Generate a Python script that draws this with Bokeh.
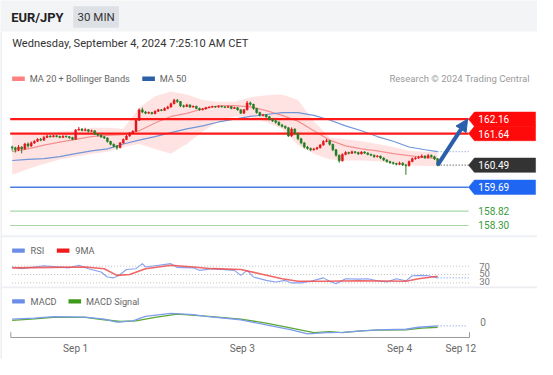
from bokeh.plotting import figure
from bokeh.layouts import column
from bokeh.models import Range1d, Arrow, NormalHead, ColumnDataSource
from bokeh.core.properties import value
from bokeh.embed import file_html
from bokeh.resources import INLINE

# ---------------- data ----------------
symbol = "EUR/JPY"
timeframe = "30 MIN"
timestamp = "Wednesday, September 4, 2024 7:25:10 AM CET"
credit = "Research \u00a9 2024 Trading Central"

open0 = 161.15
close = [161.12, 161.05, 161.15, 161.08, 161.26, 161.19, 161.30, 161.36, 161.43, 161.40,
         161.50, 161.55, 161.52, 161.56, 161.53, 161.50, 161.54, 161.52, 161.49, 161.43,
         161.77, 161.80, 161.75, 161.78, 161.72, 161.74, 161.62, 161.58, 161.52, 161.48,
         161.35, 161.25, 161.18, 161.13, 161.30, 161.42, 161.55, 161.65, 161.72, 162.12,
         162.50, 162.42, 162.38, 162.40, 162.36, 162.45, 162.50, 162.48, 162.55, 162.60,
         162.72, 162.85, 162.80, 162.65, 162.62, 162.68, 162.60, 162.63, 162.55, 162.50,
         162.53, 162.58, 162.60, 162.62, 162.60, 162.63, 162.61, 162.59, 162.62, 162.55,
         162.58, 162.50, 162.38, 162.50, 162.75, 162.70, 162.55, 162.40, 162.30, 162.32,
         162.25, 162.15, 162.10, 162.05, 161.95, 161.90, 161.85, 161.55, 161.80, 161.65,
         161.45, 161.30, 161.15, 161.10, 161.05, 161.08, 161.12, 161.22, 161.35, 161.38,
         161.25, 161.05, 160.85, 160.65, 160.88, 160.95, 160.92, 160.98, 160.95, 160.90,
         160.97, 160.93, 160.88, 160.85, 160.80, 160.82, 160.75, 160.68, 160.62, 160.58,
         160.55, 160.52, 160.56, 160.50, 160.47, 160.62, 160.72, 160.75, 160.78, 160.82,
         160.76, 160.84, 160.80, 160.72, 160.49]
high = [161.20, 161.16, 161.22, 161.18, 161.30, 161.32, 161.35, 161.40, 161.47, 161.48,
        161.56, 161.60, 161.58, 161.59, 161.58, 161.56, 161.58, 161.57, 161.55, 161.52,
        161.80, 161.88, 161.84, 161.85, 161.80, 161.78, 161.76, 161.65, 161.61, 161.55,
        161.50, 161.38, 161.28, 161.22, 161.33, 161.46, 161.59, 161.69, 161.76, 162.15,
        162.55, 162.58, 162.46, 162.44, 162.43, 162.48, 162.54, 162.53, 162.59, 162.65,
        162.76, 162.90, 162.89, 162.82, 162.69, 162.72, 162.70, 162.66, 162.65, 162.58,
        162.57, 162.61, 162.63, 162.65, 162.64, 162.66, 162.65, 162.63, 162.65, 162.64,
        162.61, 162.60, 162.52, 162.53, 162.82, 162.80, 162.72, 162.57, 162.43, 162.35,
        162.34, 162.28, 162.19, 162.13, 162.08, 161.99, 161.93, 161.87, 161.86, 161.83,
        161.67, 161.48, 161.33, 161.19, 161.13, 161.12, 161.16, 161.26, 161.40, 161.44,
        161.40, 161.27, 161.08, 160.88, 160.92, 161.00, 160.98, 161.02, 161.00, 160.98,
        161.00, 161.00, 160.96, 160.91, 160.88, 160.86, 160.84, 160.78, 160.71, 160.65,
        160.62, 160.58, 160.62, 160.60, 160.54, 160.66, 160.77, 160.80, 160.83, 160.88,
        160.85, 160.90, 160.88, 160.83, 160.74]
low = [161.02, 160.95, 161.00, 160.92, 161.05, 161.12, 161.15, 161.26, 161.33, 161.36,
       161.38, 161.48, 161.49, 161.50, 161.50, 161.47, 161.48, 161.49, 161.45, 161.40,
       161.41, 161.74, 161.72, 161.72, 161.68, 161.69, 161.59, 161.54, 161.48, 161.44,
       161.31, 161.21, 161.13, 161.05, 161.10, 161.27, 161.40, 161.52, 161.62, 161.70,
       162.10, 162.38, 162.34, 162.35, 162.33, 162.34, 162.42, 162.45, 162.46, 162.52,
       162.58, 162.70, 162.75, 162.60, 162.58, 162.60, 162.57, 162.58, 162.52, 162.47,
       162.48, 162.51, 162.56, 162.58, 162.57, 162.58, 162.58, 162.56, 162.57, 162.52,
       162.53, 162.47, 162.35, 162.36, 162.48, 162.65, 162.50, 162.36, 162.26, 162.26,
       162.21, 162.12, 162.06, 162.00, 161.92, 161.86, 161.80, 161.52, 161.52, 161.60,
       161.40, 161.25, 161.10, 161.05, 161.00, 161.02, 161.05, 161.10, 161.20, 161.32,
       161.20, 161.00, 160.80, 160.58, 160.62, 160.85, 160.88, 160.90, 160.91, 160.86,
       160.88, 160.90, 160.85, 160.82, 160.76, 160.77, 160.71, 160.64, 160.58, 160.54,
       160.51, 160.48, 160.49, 160.46, 160.14, 160.44, 160.60, 160.69, 160.72, 160.75,
       160.72, 160.73, 160.76, 160.68, 160.45]

ind_idx = [0, 5, 10, 15, 20, 25, 30, 35, 40, 45, 50, 55, 60, 65, 70, 75, 80, 85, 90, 95,
           100, 105, 110, 115, 120, 125, 130, 134]
ma20 = [160.98, 161.08, 161.22, 161.33, 161.43, 161.53, 161.57, 161.60, 161.74, 162.02,
        162.26, 162.37, 162.54, 162.65, 162.65, 162.61, 162.47, 162.30, 162.09, 161.74,
        161.40, 161.19, 161.08, 161.01, 160.91, 160.84, 160.77, 160.73]
bb_upper = [161.60, 161.60, 161.64, 161.71, 161.74, 161.85, 161.85, 161.81, 162.58, 162.99,
            163.17, 163.06, 162.86, 162.79, 162.79, 162.96, 163.03, 163.06, 162.86, 162.09,
            161.50, 161.43, 161.36, 161.26, 161.15, 161.01, 160.98, 160.98]
bb_lower = [160.14, 160.35, 160.53, 160.70, 160.80, 160.91, 160.98, 161.15, 161.26, 161.08,
            160.91, 161.26, 161.71, 162.09, 162.26, 162.26, 162.06, 161.81, 161.22, 160.91,
            160.70, 160.66, 160.66, 160.63, 160.56, 160.49, 160.46, 160.46]
ma50 = [160.66, 160.70, 160.73, 160.80, 160.91, 161.01, 161.08, 161.26, 161.40, 161.53,
        161.67, 161.81, 161.92, 162.06, 162.16, 162.26, 162.33, 162.40, 162.40, 162.30,
        162.13, 161.92, 161.74, 161.53, 161.36, 161.15, 161.05, 160.98]

resistances = [162.16, 161.64]
current_price = 160.49
pivot = 159.69
supports = [158.82, 158.30]

rsi_idx = [0, 3, 7, 10, 18, 21, 24, 28, 30, 32, 34, 36, 39, 41, 42, 45, 50, 52, 57, 59,
           63, 70, 72, 74, 76, 80, 83, 86, 88, 91, 94, 98, 100, 102, 105, 109, 112, 115, 118, 121,
           124, 126, 129, 131, 134]
rsi = [68, 64, 68, 71, 66, 72, 64, 56, 44, 42, 50, 62, 64, 76, 68, 71, 76, 67, 66, 60,
       64, 60, 48, 60, 44, 36, 32, 36, 30, 30, 34, 42, 34, 28, 40, 39, 40, 35, 32, 40,
       35, 47, 48, 47, 42]
rsi_ma_idx = [0, 13, 23, 29, 33, 37, 42, 50, 57, 63, 72, 78, 85, 90, 99, 109, 124, 128, 134]
rsi_ma = [66, 67, 68, 64, 48, 50, 64, 72, 68, 64, 62, 52, 40, 34, 34, 35, 34, 40, 46]
rsi_levels = [70, 50, 30]

macd_idx = [0, 7, 13, 23, 29, 33, 38, 42, 50, 57, 61, 72, 80, 88, 93, 99, 104, 110, 115, 124, 128, 134]
macd = [0.064, 0.086, 0.114, 0.106, 0.064, 0.0, 0.028, 0.12, 0.184, 0.156, 0.12, 0.05,
        -0.056, -0.162, -0.246, -0.218, -0.212, -0.182, -0.162, -0.148, -0.106, -0.078]
signal_idx = [0, 7, 13, 23, 29, 34, 39, 45, 52, 61, 72, 80, 88, 95, 100, 104, 110, 115, 124, 129, 134]
signal = [0.036, 0.07, 0.1, 0.1, 0.05, 0.014, 0.028, 0.1, 0.17, 0.128, 0.064, -0.02,
          -0.126, -0.218, -0.198, -0.218, -0.182, -0.168, -0.162, -0.126, -0.106]

tick_idx = [20, 72.5, 122, 141.3]
tick_labels = ["Sep 1", "Sep 3", "Sep 4", "Sep 12"]

# ---------------- layout helpers (reference pixel -> data units) ----------------
FONT = value("Roboto")
W, H = 537, 359
SX, SY = W / 553.0, H / 375.0
H1, H2 = 235, 51
H3 = H - H1 - H2
B1 = H1 / SY          # reference y of panel borders
B2 = (H1 + H2) / SY


def X(px):
    return (px - 12) / 3.27


def PY(py):
    return 162.16 - (py - 124) / 28.76


def RY(py):
    return 50 + (286.25 - py) / 0.4375


def MY(py):
    return (336 - py) / 50.0


def fs(size):
    return f"{size * SY:.2f}px"


def make_fig(h, y0, y1):
    f = figure(width=W, height=h, x_range=Range1d(X(0), X(553)), y_range=Range1d(y0, y1),
               output_backend="svg", toolbar_location=None, min_border=0,
               x_axis_location=None, y_axis_location=None)
    f.grid.visible = False
    f.outline_line_color = None
    f.background_fill_color = "white"
    f.border_fill_color = "white"
    return f


def txt(f, x, y, s, size, color, align="left", bold=False):
    f.text(x=[x], y=[y], text=[s], text_font=FONT, text_font_size=fs(size),
           text_color=color, text_align=align, text_baseline="middle",
           text_font_style="bold" if bold else "normal")


SEP = "#eceef1"
LEG_TXT = "#666666"

# ---------------- main price panel ----------------
f1 = make_fig(H1, PY(B1), PY(0))
f1.quad(left=X(-5), right=X(560), top=PY(-5), bottom=PY(32.5), fill_color="#f3f4f6", line_color=None)
f1.quad(left=X(-5), right=X(1.5), top=PY(32.5), bottom=PY(260), fill_color=SEP, line_color=None)
txt(f1, X(11), PY(18), symbol, 13.5, "#222222", bold=True)
f1.quad(left=X(75), right=X(122), top=PY(6), bottom=PY(28.5), fill_color="#dde0e5", line_color=None)
txt(f1, X(98.5), PY(17.5), timeframe, 12, "#333333", align="center")
txt(f1, X(12), PY(45), timestamp, 11.6, "#333333")

# legend
f1.quad(left=X(12), right=X(25), top=PY(79.5), bottom=PY(84), fill_color="#ff8080", line_color=None)
txt(f1, X(30), PY(81.5), "MA 20 + Bollinger Bands", 9.6, LEG_TXT)
f1.quad(left=X(146), right=X(159), top=PY(79.5), bottom=PY(84), fill_color="#2d5fa6", line_color=None)
txt(f1, X(164), PY(81.5), "MA 50", 9.6, LEG_TXT)
txt(f1, X(545), PY(81.5), credit, 10, "#9a9a9a", align="right")

# bollinger + MAs
f1.varea(x=ind_idx, y1=bb_lower, y2=bb_upper, fill_color="#ffe0e0", fill_alpha=0.9)
f1.line(ind_idx, ma20, line_color="#f49090", line_width=1.2)
f1.line(ind_idx, ma50, line_color="#7096d6", line_width=1.2)
f1.segment(x0=[ind_idx[-1]], y0=[ma50[-1]], x1=[X(482)], y1=[ma50[-1]],
           line_color="#8aa8dd", line_width=1.2, line_dash="1 2")

# level lines
x_l, x_r = X(10), X(482)
for lv in resistances:
    f1.segment(x0=[x_l], y0=[lv], x1=[x_r], y1=[lv], line_color="#ff1a1a", line_width=2.2)
f1.segment(x0=[x_l], y0=[pivot], x1=[x_r], y1=[pivot], line_color="#4a7ee0", line_width=1.6)
for lv in supports:
    f1.segment(x0=[x_l], y0=[lv], x1=[x_r], y1=[lv], line_color="#a8d8a8", line_width=1.1)
f1.segment(x0=[len(close) - 1], y0=[current_price], x1=[x_r], y1=[current_price],
           line_color="#555555", line_width=1.2, line_dash="1 2")

# candles
opens = [open0] + close[:-1]
idx = list(range(len(close)))
cols = ["#e3161b" if c > o else "#237d23" for o, c in zip(opens, close)]
src = ColumnDataSource(dict(x=idx, o=opens, c=close, h=high, l=low, col=cols))
f1.segment(x0="x", y0="l", x1="x", y1="h", line_color="col", line_width=1, source=src)
f1.vbar(x="x", bottom="o", top="c", width=0.62, fill_color="col", line_color="col",
        line_width=0.5, source=src)

# arrow
ARW = "#2b5fad"
f1.add_layout(Arrow(end=NormalHead(size=12, fill_color=ARW, line_color=ARW),
                    x_start=len(close) - 1, y_start=current_price, x_end=X(481), y_end=resistances[0],
                    line_color=ARW, line_width=4))

# right tags
hh = 7.5 / 28.76


def tag(f, yv, color, label):
    xs = [X(482), X(488), X(551), X(551), X(488)]
    ys = [yv, yv + hh, yv + hh, yv - hh, yv - hh]
    f.patch(xs, ys, fill_color=color, line_color=color, line_width=0.5)
    txt(f, X(508), yv, label, 10.5, "white", align="center")


tag(f1, resistances[0], "#ff0a0a", f"{resistances[0]:.2f}")
tag(f1, resistances[1], "#ff0a0a", f"{resistances[1]:.2f}")
tag(f1, current_price, "#333333", f"{current_price:.2f}")
tag(f1, pivot, "#1f67f2", f"{pivot:.2f}")
for lv in supports:
    txt(f1, X(508), lv, f"{lv:.2f}", 10.5, "#3a9a3a", align="center")

f1.quad(left=X(-5), right=X(560), top=PY(244.8), bottom=PY(250), fill_color=SEP, line_color=None)

# ---------------- RSI panel ----------------
f2 = make_fig(H2, RY(B2), RY(B1))
f2.quad(left=X(-5), right=X(1.5), top=RY(240), bottom=RY(305), fill_color=SEP, line_color=None)
f2.quad(left=X(12), right=X(25), top=RY(259), bottom=RY(263.5), fill_color="#6c8de8", line_color=None)
txt(f2, X(31), RY(261), "RSI", 9.6, LEG_TXT)
f2.quad(left=X(58), right=X(71), top=RY(259), bottom=RY(263.5), fill_color="#ee1c1c", line_color=None)
txt(f2, X(77), RY(261), "9MA", 9.6, LEG_TXT)
for lv in rsi_levels:
    f2.segment(x0=[X(12)], y0=[lv], x1=[X(483)], y1=[lv], line_color="#bdbdbd", line_width=1,
               line_dash="1 2")
f2.text(x=[X(493)] * 3, y=[70, 51.5, 33.5], text=[str(v) for v in rsi_levels], text_font=FONT,
        text_font_size=fs(10), text_color="#777777", text_align="left", text_baseline="middle")
f2.line(rsi_idx, rsi, line_color="#86a2ef", line_width=1.1)
f2.line(rsi_ma_idx, rsi_ma, line_color="#ef4b4b", line_width=1.6, line_alpha=0.85)
f2.segment(x0=[rsi_idx[-1]], y0=[rsi[-1]], x1=[X(482)], y1=[rsi[-1]], line_color="#8aa5ef",
           line_width=1.2, line_dash="1 2")
f2.quad(left=X(-5), right=X(560), top=RY(240), bottom=RY(247.3), fill_color=SEP, line_color=None)
f2.quad(left=X(-5), right=X(560), top=RY(298.3), bottom=RY(305), fill_color=SEP, line_color=None)

# ---------------- MACD panel ----------------
f3 = make_fig(H3, MY(375), MY(B2))
f3.quad(left=X(-5), right=X(1.5), top=MY(290), bottom=MY(380), fill_color=SEP, line_color=None)
f3.quad(left=X(12), right=X(25), top=MY(312), bottom=MY(316.5), fill_color="#6c8de8", line_color=None)
txt(f3, X(31), MY(314), "MACD", 9.6, LEG_TXT)
f3.quad(left=X(70), right=X(83), top=MY(312), bottom=MY(316.5), fill_color="#3d9a1a", line_color=None)
txt(f3, X(88), MY(314), "MACD Signal", 9.6, LEG_TXT)
f3.line(signal_idx, signal, line_color="#5aa832", line_width=1.3)
f3.line(macd_idx, macd, line_color="#7d9bee", line_width=1.3)
f3.segment(x0=[macd_idx[-1]], y0=[macd[-1]], x1=[X(481)], y1=[macd[-1]], line_color="#8aa5ef",
           line_width=1.2, line_dash="1 2")
txt(f3, X(494), 0, "0", 10.5, "#777777")
# x axis
AX = "#9a9a9a"
f3.segment(x0=[X(10.6)], y0=[MY(352)], x1=[X(483)], y1=[MY(352)], line_color=AX, line_width=1)
f3.segment(x0=[X(10.6), X(483)], y0=[MY(352), MY(352)], x1=[X(10.6), X(483)], y1=[MY(346.5), MY(346.5)],
           line_color=AX, line_width=1)
for ti, tl in zip(tick_idx, tick_labels):
    txt(f3, ti, MY(364), tl, 10.5, "#666666", align="center")
f3.quad(left=X(-5), right=X(560), top=MY(290), bottom=MY(300.5), fill_color=SEP, line_color=None)

layout = column(f1, f2, f3, spacing=0)
open("out.html", "w").write(file_html(layout, INLINE))
